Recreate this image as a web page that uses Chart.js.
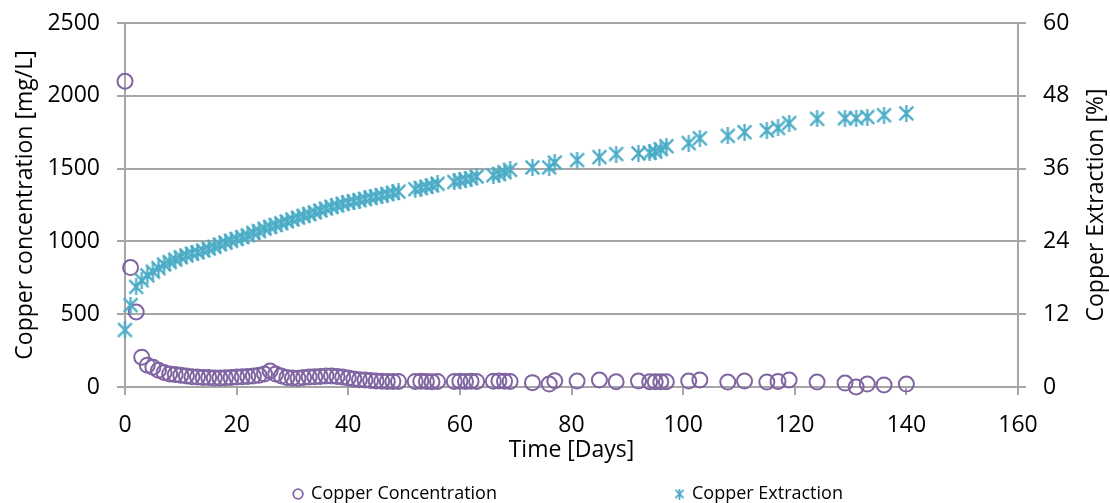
<!DOCTYPE html>
<html>
<head>
<meta charset="utf-8">
<script src="https://cdn.jsdelivr.net/npm/chart.js@4"></script>
<style>
  html, body { margin: 0; padding: 0; background: #fff; }
  #wrap { width: 1110px; height: 503px; }
</style>
</head>
<body>
<div id="wrap"><canvas id="copperChart" width="1110" height="503"></canvas></div>
<script>
// sampling days (x axis)
const days = [0, 1, 2, 3, 4, 5, 6, 7, 8, 9, 10, 11, 12, 13, 14, 15, 16, 17, 18, 19,
  20, 21, 22, 23, 24, 25, 26, 27, 28, 29, 30, 31, 32, 33, 34, 35, 36, 37, 38, 39,
  40, 41, 42, 43, 44, 45, 46, 47, 48, 49,
  52, 53, 54, 55, 56, 59, 60, 61, 62, 63, 66, 67, 68, 69, 73, 76, 77, 81, 85, 88,
  92, 94, 95, 96, 97, 101, 103, 108, 111, 115, 117, 119, 124, 129, 131, 133, 136, 140];

// copper concentration [mg/L] (left axis)
const concentration = [2100, 820, 515, 205, 150, 135, 115, 100, 90, 85, 80, 75, 70, 68, 65, 65, 62, 62, 63, 65,
  68, 70, 72, 75, 80, 90, 110, 90, 75, 65, 62, 60, 65, 68, 70, 72, 75, 75, 72, 68,
  62, 55, 50, 48, 45, 42, 40, 38, 38, 38,
  38, 40, 38, 36, 38, 38, 40, 38, 40, 38, 40, 42, 40, 38, 30, 20, 43, 41, 48, 36,
  41, 36, 36, 36, 36, 41, 48, 34, 41, 34, 38, 48, 34, 27, 0, 20, 14, 20];

// copper extraction [%] (right axis)
const extraction = [9.4, 13.5, 16.5, 17.6, 18.4, 19.0, 19.6, 20.2, 20.6, 21.0, 21.4, 21.7, 22.0, 22.2, 22.5, 22.8, 23.1, 23.5, 23.8, 24.1,
  24.4, 24.7, 25.0, 25.4, 25.7, 26.1, 26.4, 26.7, 27.0, 27.3, 27.6, 27.9, 28.2, 28.5, 28.8, 29.1, 29.4, 29.7, 29.9, 30.2,
  30.4, 30.6, 30.8, 31.0, 31.2, 31.4, 31.6, 31.8, 32.0, 32.2,
  32.6, 32.8, 33.0, 33.2, 33.5, 33.8, 34.0, 34.2, 34.4, 34.7, 34.9, 35.1, 35.4, 35.8, 36.2, 36.2, 37.0, 37.4, 37.9, 38.4,
  38.5, 38.6, 38.8, 39.2, 39.7, 40.2, 41.0, 41.4, 42.0, 42.3, 42.7, 43.5, 44.2, 44.3, 44.3, 44.5, 44.8, 45.1];

const PURPLE = "#8064A2";
const TEAL = "#4BACC6";
const GRID = "#a6a6a6";
const FONT = "'Open Sans', 'Noto Sans', sans-serif";

// excel style star marker: X plus vertical bar
function makeStar(size, lw) {
  const c = document.createElement("canvas");
  c.width = size;
  c.height = size;
  const g = c.getContext("2d");
  g.strokeStyle = TEAL;
  g.lineWidth = lw;
  const m = lw / 2 + 0.5;
  g.beginPath();
  g.moveTo(m, m); g.lineTo(size - m, size - m);
  g.moveTo(size - m, m); g.lineTo(m, size - m);
  g.moveTo(size / 2, 0); g.lineTo(size / 2, size);
  g.stroke();
  return c;
}
const starPoint = makeStar(17, 2.2);
const starLegend = makeStar(11, 1.8);

// right axis title reads bottom-to-top, so draw it by hand
const rightTitle = {
  id: "rightTitle",
  afterDraw(chart) {
    const { ctx, chartArea } = chart;
    ctx.save();
    ctx.fillStyle = "#000";
    ctx.font = "23px " + FONT;
    ctx.textAlign = "center";
    ctx.textBaseline = "middle";
    ctx.translate(1096, (chartArea.top + chartArea.bottom) / 2);
    ctx.rotate(-Math.PI / 2);
    ctx.fillText("Copper Extraction [%]", 0, 0);
    ctx.restore();
  }
};

// bottom legend with wide gap between entries
const wideLegend = {
  id: "wideLegend",
  afterDraw(chart) {
    const ctx = chart.ctx;
    const y = 494;
    const gap = 177;
    const textOff = 18;
    ctx.save();
    ctx.font = "18px " + FONT;
    ctx.textBaseline = "middle";
    ctx.fillStyle = "#000";
    const names = chart.data.datasets.map(d => d.label);
    const w1 = textOff + ctx.measureText(names[0]).width;
    const w2 = textOff + ctx.measureText(names[1]).width;
    let x = 568 - (w1 + gap + w2) / 2;
    ctx.strokeStyle = PURPLE;
    ctx.lineWidth = 1.8;
    ctx.beginPath();
    ctx.arc(x + 5, y, 4.8, 0, Math.PI * 2);
    ctx.stroke();
    ctx.fillText(names[0], x + textOff, y);
    x += w1 + gap;
    ctx.drawImage(starLegend, x, y - 5.5);
    ctx.fillText(names[1], x + textOff, y);
    ctx.restore();
  }
};

const data = {
  datasets: [
    {
      label: "Copper Concentration",
      data: days.map((d, i) => ({ x: d, y: concentration[i] })),
      yAxisID: "y",
      showLine: false,
      pointStyle: "circle",
      pointRadius: 7.5,
      pointHoverRadius: 7.5,
      borderColor: PURPLE,
      borderWidth: 2,
      backgroundColor: "rgba(0,0,0,0)",
      order: 1,
      clip: false
    },
    {
      label: "Copper Extraction",
      data: days.map((d, i) => ({ x: d, y: extraction[i] })),
      yAxisID: "y1",
      showLine: false,
      pointStyle: starPoint,
      pointRadius: 8,
      borderColor: TEAL,
      backgroundColor: TEAL,
      order: 0,
      clip: false
    }
  ]
};

const tickFont = { family: FONT, size: 23, lineHeight: 1 };
const titleFont = { family: FONT, size: 23 };
const plain = v => String(v);

// fixed axis widths; drop the label overflow padding so the plot top stays put
function fitVertical(width) {
  return scale => {
    scale.width = width;
    scale.paddingTop = 0;
    scale.paddingBottom = 0;
  };
}

const config = {
  type: "scatter",
  data: data,
  options: {
    responsive: false,
    animation: false,
    layout: { autoPadding: false, padding: { top: 23, bottom: 38, left: 0, right: 0 } },
    plugins: {
      legend: { display: false },
      tooltip: { enabled: false }
    },
    scales: {
      x: {
        type: "linear",
        min: 0,
        max: 160,
        ticks: { stepSize: 20, color: "#000", font: tickFont, padding: 19, callback: plain },
        grid: { drawOnChartArea: false, color: GRID, lineWidth: 2, tickLength: 8 },
        border: { color: GRID, width: 2 },
        title: { display: true, text: "Time [Days]", color: "#000", font: titleFont, padding: { top: 0, bottom: 1 } },
        afterFit(scale) { scale.height = 78; }
      },
      y: {
        position: "left",
        min: 0,
        max: 2500,
        ticks: { stepSize: 500, color: "#000", font: tickFont, padding: 17, callback: plain },
        grid: { color: GRID, lineWidth: 2, tickLength: 8 },
        border: { color: GRID, width: 2 },
        title: { display: true, text: "Copper concentration [mg/L]", color: "#000", font: titleFont, padding: { top: 12, bottom: 0 } },
        afterFit: fitVertical(125)
      },
      y1: {
        position: "right",
        min: 0,
        max: 60,
        ticks: { stepSize: 12, color: "#000", font: tickFont, padding: 17, callback: plain },
        grid: { drawOnChartArea: false, color: GRID, lineWidth: 2, tickLength: 8 },
        border: { color: GRID, width: 2 },
        afterFit: fitVertical(92)
      }
    }
  },
  plugins: [rightTitle, wideLegend]
};

const ctx = document.getElementById("copperChart");
let copperChart = new Chart(ctx, config);
</script>
</body>
</html>
